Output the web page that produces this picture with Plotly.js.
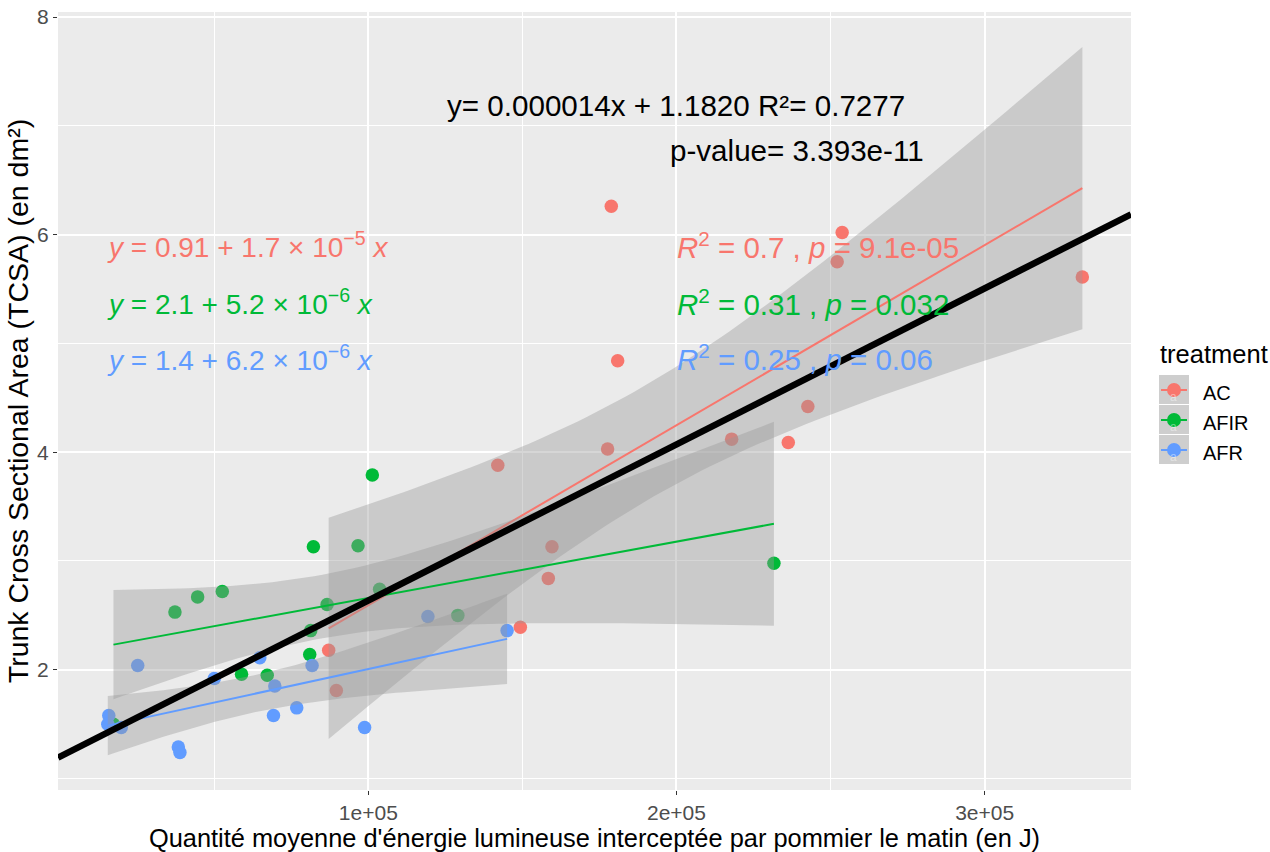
<!DOCTYPE html>
<html><head><meta charset="utf-8">
<script src="https://cdn.plot.ly/plotly-3.0.1.min.js"></script>
<style>html,body{margin:0;padding:0;background:#fff;}#chart{width:1270px;height:852px;}</style>
</head><body><div id="chart"></div>
<script>
// ---------------- data ----------------
const treatments = ['AC', 'AFIR', 'AFR'];
const groupColors = ['#F8766D', '#00BA38', '#619CFF'];

const acX = [178850, 253770, 252150, 331710, 180920, 242630, 177650, 217910, 236280, 142020, 159600, 158410, 149340, 87140, 89630];
const acY = [6.26, 6.02, 5.75, 5.61, 4.84, 4.42, 4.03, 4.12, 4.09, 3.88, 3.13, 2.84, 2.39, 2.18, 1.81];

const afirX = [101300, 82180, 96660, 37250, 44610, 52610, 86620, 103660, 81310, 80990, 58860, 67190, 17300, 129060, 231620];
const afirY = [3.79, 3.13, 3.14, 2.53, 2.67, 2.72, 2.60, 2.74, 2.36, 2.14, 1.96, 1.95, 1.50, 2.50, 2.98];

const afrX = [25170, 64790, 50020, 81760, 69650, 76770, 69230, 98800, 119340, 145030, 15780, 15450, 19830, 38350, 38870];
const afrY = [2.04, 2.11, 1.92, 2.04, 1.85, 1.65, 1.58, 1.47, 2.49, 2.36, 1.58, 1.50, 1.47, 1.29, 1.24];

const eqLabels = [
  '<i>y</i> = 0.91 + 1.7 × 10<sup>−5</sup> <i>x</i>',
  '<i>y</i> = 2.1 + 5.2 × 10<sup>−6</sup> <i>x</i>',
  '<i>y</i> = 1.4 + 6.2 × 10<sup>−6</sup> <i>x</i>'
];
const rrLabels = [
  '<i>R</i><sup>2</sup> = 0.7 , <i>p</i> = 9.1e-05',
  '<i>R</i><sup>2</sup> = 0.31 , <i>p</i> = 0.032',
  '<i>R</i><sup>2</sup> = 0.25 , <i>p</i> = 0.06'
];
const labelY = [5.90, 5.38, 4.87];
const eqLabelX = 14500;
const rrLabelX = 199400;

const globalEqText = 'y= 0.000014x + 1.1820 R²= 0.7277';
const globalPText = 'p-value= 3.393e-11';

const xTickVals = [100000, 200000, 300000];
const xTickText = ['1e+05', '2e+05', '3e+05'];
const yTickVals = [2, 4, 6, 8];
const yTickText = ['2', '4', '6', '8'];

const xTitle = "Quantité moyenne d'énergie lumineuse interceptée par pommier le matin (en J)";
const yTitle = 'Trunk Cross Sectional Area (TCSA) (en dm²)';
const legendTitle = 'treatment';

// ---------------- stats ----------------
const groupsX = [acX, afirX, afrX];
const groupsY = [acY, afirY, afrY];

function lm(xs, ys) {
  const n = xs.length;
  const mx = xs.reduce((a, b) => a + b, 0) / n;
  const my = ys.reduce((a, b) => a + b, 0) / n;
  let sxx = 0, sxy = 0, syy = 0;
  for (let i = 0; i < n; i++) {
    sxx += (xs[i] - mx) ** 2; sxy += (xs[i] - mx) * (ys[i] - my); syy += (ys[i] - my) ** 2;
  }
  const b = sxy / sxx, a = my - b * mx;
  const rss = syy - b * sxy;
  return { a, b, mx, sxx, n, s: Math.sqrt(rss / (n - 2)) };
}
function lgamma(z) {
  const g = 7, c = [0.99999999999980993, 676.5203681218851, -1259.1392167224028, 771.32342877765313,
    -176.61502916214059, 12.507343278686905, -0.13857109526572012, 9.9843695780195716e-6, 1.5056327351493116e-7];
  z -= 1; let x = c[0];
  for (let i = 1; i < g + 2; i++) x += c[i] / (z + i);
  const t = z + g + 0.5;
  return 0.5 * Math.log(2 * Math.PI) + (z + 0.5) * Math.log(t) - t + Math.log(x);
}
function tCdf(t, v) {
  const k = Math.exp(lgamma((v + 1) / 2) - lgamma(v / 2)) / Math.sqrt(v * Math.PI);
  const m = 400, h = t / m; let s = 0;
  for (let i = 0; i <= m; i++) {
    const u = i * h, f = k * Math.pow(1 + u * u / v, -(v + 1) / 2);
    s += f * (i === 0 || i === m ? 1 : (i % 2 ? 4 : 2));
  }
  return 0.5 + s * h / 3;
}
function tQuantile(p, v) {
  let lo = 0, hi = 20;
  for (let i = 0; i < 60; i++) { const mid = (lo + hi) / 2; if (tCdf(mid, v) < p) lo = mid; else hi = mid; }
  return (lo + hi) / 2;
}

const ribbonFill = 'rgba(153,153,153,0.4)';
const traces = [];
// points first
for (let g = 0; g < 3; g++) {
  traces.push({
    x: groupsX[g], y: groupsY[g], type: 'scatter', mode: 'markers', name: treatments[g],
    marker: { color: groupColors[g], size: 13.5, line: { width: 0 } }, showlegend: false, hoverinfo: 'skip'
  });
}
// smooth: ribbon + line per group
for (let g = 0; g < 3; g++) {
  const fit = lm(groupsX[g], groupsY[g]);
  const tc = tQuantile(0.975, fit.n - 2);
  const xmin = Math.min(...groupsX[g]), xmax = Math.max(...groupsX[g]);
  const N = 80, xs = [], yf = [], up = [], lo = [];
  for (let i = 0; i < N; i++) {
    const x = xmin + (xmax - xmin) * i / (N - 1);
    const f = fit.a + fit.b * x;
    const se = fit.s * Math.sqrt(1 / fit.n + (x - fit.mx) ** 2 / fit.sxx);
    xs.push(x); yf.push(f); up.push(f + tc * se); lo.push(f - tc * se);
  }
  traces.push({
    x: xs.concat(xs.slice().reverse()), y: up.concat(lo.slice().reverse()),
    type: 'scatter', mode: 'lines', fill: 'toself', fillcolor: ribbonFill,
    line: { width: 0, color: 'rgba(0,0,0,0)' }, showlegend: false, hoverinfo: 'skip'
  });
  traces.push({
    x: xs, y: yf, type: 'scatter', mode: 'lines', line: { color: groupColors[g], width: 2 },
    showlegend: false, hoverinfo: 'skip'
  });
}
// global regression line (abline across full x range)
const allX = acX.concat(afirX, afrX), allY = acY.concat(afirY, afrY);
const gfit = lm(allX, allY);
const xRange = [-700, 347500];
const yRange = [0.895, 8.046];
traces.push({
  x: xRange, y: xRange.map(x => gfit.a + gfit.b * x), type: 'scatter', mode: 'lines',
  line: { color: '#000000', width: 6.5 }, showlegend: false, hoverinfo: 'skip'
});

// ---------------- layout ----------------
const L = 58, R = 1131, T = 12, B = 790;
const px = v => (v - L) / (R - L);
const py = v => (B - v) / (B - T);
const font = 'Liberation Sans, Arial, sans-serif';

const annotations = [];
for (let g = 0; g < 3; g++) {
  annotations.push({ x: eqLabelX, y: labelY[g], xref: 'x', yref: 'y', text: eqLabels[g], showarrow: false,
    xanchor: 'left', yanchor: 'middle', font: { family: font, size: 28, color: groupColors[g] } });
  annotations.push({ x: rrLabelX, y: labelY[g], xref: 'x', yref: 'y', text: rrLabels[g], showarrow: false,
    xanchor: 'left', yanchor: 'middle', font: { family: font, size: 29.5, color: groupColors[g] } });
}
annotations.push({ x: 200000, y: 7.19, xref: 'x', yref: 'y', text: globalEqText, showarrow: false,
  xanchor: 'center', yanchor: 'middle', font: { family: font, size: 29.6, color: '#000' } });
annotations.push({ x: 239000, y: 6.77, xref: 'x', yref: 'y', text: globalPText, showarrow: false,
  xanchor: 'center', yanchor: 'middle', font: { family: font, size: 29.6, color: '#000' } });

// custom legend (ggplot style keys)
const shapes = [];
annotations.push({ x: px(1158), y: py(354), xref: 'paper', yref: 'paper', text: legendTitle, showarrow: false,
  xanchor: 'left', yanchor: 'middle', font: { family: font, size: 25.5, color: '#000' } });
for (let g = 0; g < 3; g++) {
  const top = 375 + g * 30, cy = top + 15;
  shapes.push({ type: 'rect', xref: 'paper', yref: 'paper', x0: px(1159), x1: px(1189), y0: py(top), y1: py(top + 29),
    fillcolor: 'rgb(206,206,206)', line: { width: 0 }, layer: 'above' });
  shapes.push({ type: 'line', xref: 'paper', yref: 'paper', x0: px(1161), x1: px(1187), y0: py(cy), y1: py(cy),
    line: { color: groupColors[g], width: 2 }, layer: 'above' });
  shapes.push({ type: 'circle', xref: 'paper', yref: 'paper', x0: px(1167), x1: px(1181), y0: py(cy - 7), y1: py(cy + 7),
    fillcolor: groupColors[g], line: { width: 0 }, layer: 'above' });
  annotations.push({ x: px(1173), y: py(cy + 7), xref: 'paper', yref: 'paper', text: 'a', showarrow: false,
    xanchor: 'center', yanchor: 'middle', font: { family: font, size: 12, color: 'rgba(255,255,255,0.45)' } });
  annotations.push({ x: px(1201), y: py(cy + 3), xref: 'paper', yref: 'paper', text: treatments[g], showarrow: false,
    xanchor: 'left', yanchor: 'middle', font: { family: font, size: 20, color: '#000' } });
}

const layout = {
  width: 1270, height: 852,
  margin: { l: L, r: 1270 - R, t: T, b: 852 - B, pad: 0 },
  paper_bgcolor: '#FFFFFF', plot_bgcolor: '#EBEBEB',
  showlegend: false,
  font: { family: font },
  xaxis: {
    range: xRange, tickmode: 'array', tickvals: xTickVals, ticktext: xTickText,
    showgrid: true, gridcolor: '#FFFFFF', gridwidth: 2, zeroline: false, showline: false,
    ticks: 'outside', ticklen: 4, tickcolor: '#333333', tickwidth: 1,
    tickfont: { family: font, size: 21, color: '#4D4D4D' },
    minor: { tickmode: 'array', tickvals: [50000, 150000, 250000], showgrid: true, gridcolor: '#FFFFFF', gridwidth: 1, ticks: '' },
    title: { text: xTitle, font: { family: font, size: 25.4, color: '#000' }, standoff: 4 }
  },
  yaxis: {
    range: yRange, tickmode: 'array', tickvals: yTickVals, ticktext: yTickText,
    showgrid: true, gridcolor: '#FFFFFF', gridwidth: 2, zeroline: false, showline: false,
    ticks: 'outside', ticklen: 4, tickcolor: '#333333', tickwidth: 1,
    tickfont: { family: font, size: 21, color: '#4D4D4D' },
    minor: { tickmode: 'array', tickvals: [1, 3, 5, 7], showgrid: true, gridcolor: '#FFFFFF', gridwidth: 1, ticks: '' },
    title: { text: yTitle, font: { family: font, size: 28.5, color: '#000' }, standoff: 0 }
  },
  annotations: annotations,
  shapes: shapes
};

Plotly.newPlot('chart', traces, layout, { staticPlot: true, displayModeBar: false });
</script>
</body></html>
